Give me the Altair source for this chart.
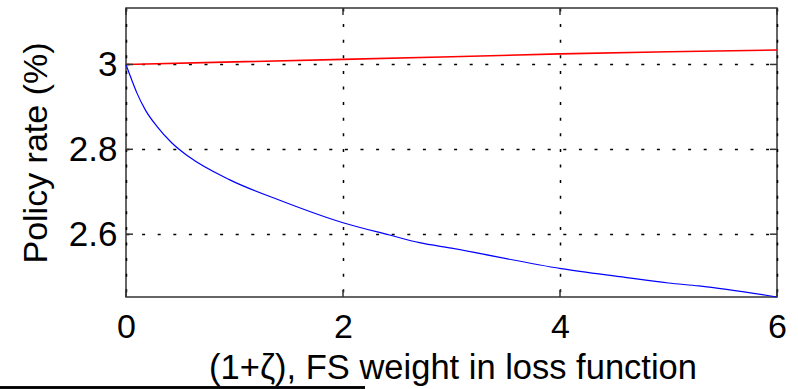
import altair as alt
import pandas as pd

# ---- data ----
blue_x = [0.0, 0.04, 0.10, 0.178, 0.285, 0.423, 0.577, 0.957, 1.417, 2.0, 2.43, 2.705, 3.0, 4.01, 4.55, 5.0, 5.28, 6.0]
blue_y = [3.0, 2.972, 2.933, 2.893, 2.854, 2.815, 2.783, 2.728, 2.680, 2.627, 2.598, 2.580, 2.567, 2.519, 2.500, 2.485, 2.478, 2.452]
red_x = [0, 1, 2, 3, 4, 5, 6]
red_y = [3.0, 3.006, 3.012, 3.018, 3.025, 3.030, 3.034]
x_ticks = [0, 2, 4, 6]
y_ticks = [2.6, 2.8, 3.0]
x_title = "(1+ζ), FS weight in loss function"
y_title = "Policy rate (%)"

W, H = 651, 289
FONT = "Liberation Sans"
xdom = [0, 6]
ydom = [2.452, 3.133]

blue = pd.DataFrame({"x": blue_x, "y": blue_y, "o": range(len(blue_x))})
red = pd.DataFrame({"x": red_x, "y": red_y, "o": range(len(red_x))})
xt = pd.DataFrame({"x": x_ticks})
yt = pd.DataFrame({"y": y_ticks})

xscale = alt.Scale(domain=xdom, nice=False, zero=False)
yscale = alt.Scale(domain=ydom, nice=False, zero=False)

xaxis = alt.Axis(values=x_ticks, format="d", grid=True, gridDash=[3, 12.6], gridColor="black",
                 gridWidth=1.5, gridOpacity=1, domain=False, ticks=False, tickSize=0,
                 labelFont=FONT, labelFontSize=34, labelColor="black", labelPadding=13,
                 labelFlush=False, title=x_title, titleFont=FONT, titleFontSize=34.5,
                 titleFontWeight="normal", titleColor="black", titleX=W / 2 + 1, titleY=81,
                 titleBaseline="alphabetic", titleAlign="center")
yaxis = alt.Axis(values=y_ticks, grid=True, gridDash=[3, 12.6], gridColor="black",
                 gridWidth=1.5, gridOpacity=1, domain=False, ticks=False, tickSize=0,
                 labelFont=FONT, labelFontSize=35, labelColor="black", labelPadding=9,
                 labelExpr="datum.value == 3 ? '3' : format(datum.value, '.1f')",
                 title=y_title, titleFont=FONT, titleFontSize=34, titleFontWeight="normal",
                 titleColor="black", titleAngle=270, titleX=-90, titleY=H / 2,
                 titleBaseline="middle", titleAlign="center")

base_grid = alt.Chart(xt).mark_point(opacity=0).encode(
    x=alt.X("x:Q", scale=xscale, axis=xaxis),
    y=alt.Y("v:Q", scale=yscale, axis=yaxis),
).transform_calculate(v="3")

red_line = alt.Chart(red).mark_line(color="#ff0000", strokeWidth=1.6).encode(
    x=alt.X("x:Q", scale=xscale), y=alt.Y("y:Q", scale=yscale), order="o:Q")
blue_line = alt.Chart(blue).mark_line(color="#0000ff", strokeWidth=1.2, interpolate="monotone").encode(
    x=alt.X("x:Q", scale=xscale), y=alt.Y("y:Q", scale=yscale), order="o:Q")

tk = dict(color="#333333", strokeWidth=1.5)
xt_bot = alt.Chart(xt).mark_rule(**tk).encode(x=alt.X("x:Q", scale=xscale), y=alt.value(H), y2=alt.value(H - 7))
xt_top = alt.Chart(xt).mark_rule(**tk).encode(x=alt.X("x:Q", scale=xscale), y=alt.value(0), y2=alt.value(7))
yt_left = alt.Chart(yt).mark_rule(**tk).encode(y=alt.Y("y:Q", scale=yscale), x=alt.value(0), x2=alt.value(7))
yt_right = alt.Chart(yt).mark_rule(**tk).encode(y=alt.Y("y:Q", scale=yscale), x=alt.value(W), x2=alt.value(W - 7))

# separator line at the bottom-left of the page
sep = alt.Chart(xt).mark_rule(color="black", strokeWidth=2, clip=False).encode(
    x=alt.value(-126), x2=alt.value(239), y=alt.value(379.5))

chart = alt.layer(base_grid, red_line, blue_line, xt_bot, xt_top, yt_left, yt_right, sep).properties(
    width=W, height=H,
    autosize=alt.AutoSizeParams(type="none"),
    padding={"left": 126, "top": 8, "right": 21, "bottom": 92},
    background="white",
).configure_view(stroke="#333333", strokeWidth=1.5)

chart.save("out.html", embed_options={"renderer": "svg", "actions": False})
